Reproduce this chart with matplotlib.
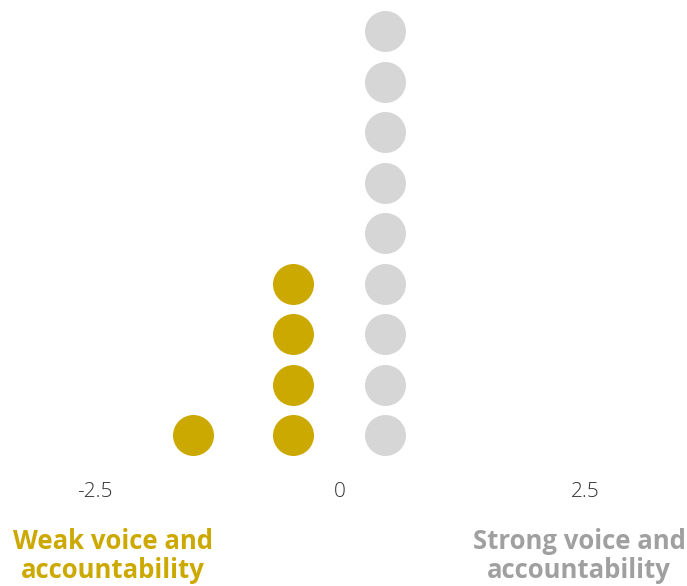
import matplotlib
matplotlib.use("Agg")
import matplotlib.pyplot as plt

plt.rcParams["font.family"] = ["Open Sans", "DejaVu Sans"]

# Dot-plot data: bin centre and number of stacked dots
weak_bins = [-1.5, -0.48]
weak_counts = [1, 4]
strong_bins = [0.46]
strong_counts = [9]

tick_values = [-2.5, 0, 2.5]
tick_labels = ["-2.5", "0", "2.5"]

GOLD = "#CCA900"
GREY_DOT = "#D6D6D6"
GREY_TEXT = "#A0A0A0"
TICK_TEXT = "#333333"

W, H, DPI = 687, 586, 100
fig = plt.figure(figsize=(W / DPI, H / DPI), dpi=DPI)

# axes bottom sits just above the tick labels
bottom_px = 110
ax = fig.add_axes([0, bottom_px / H, 1, 1 - bottom_px / H])

row_px = 50.5
first_px = 41
px_per_unit = 98.0
ax.set_xlim(-340 / px_per_unit, (W - 340) / px_per_unit)
ax.set_ylim(1 - first_px / row_px, 1 + (H - bottom_px - first_px) / row_px)

dot_size = (41 * 72 / DPI) ** 2


def stack(ax, bins, counts, color):
    for x, n in zip(bins, counts):
        ys = list(range(1, n + 1))
        ax.scatter([x] * n, ys, s=dot_size, color=color, linewidths=0,
                   clip_on=False, zorder=3)


stack(ax, weak_bins, weak_counts, GOLD)
stack(ax, strong_bins, strong_counts, GREY_DOT)

for sp in ax.spines.values():
    sp.set_visible(False)
ax.set_yticks([])
ax.set_xticks(tick_values)
ax.set_xticklabels(tick_labels, fontsize=15, color=TICK_TEXT, fontweight="light")
ax.tick_params(axis="x", length=0, pad=4)

fig.text(113 / W, 1 - 556 / H, "Weak voice and\naccountability", color=GOLD,
         fontsize=18.5, fontweight="bold", ha="center", va="center",
         linespacing=1.08)
fig.text(579 / W, 1 - 556 / H, "Strong voice and\naccountability", color=GREY_TEXT,
         fontsize=18.5, fontweight="bold", ha="center", va="center",
         linespacing=1.08)

fig.savefig("out.png", dpi=DPI, facecolor="white")
